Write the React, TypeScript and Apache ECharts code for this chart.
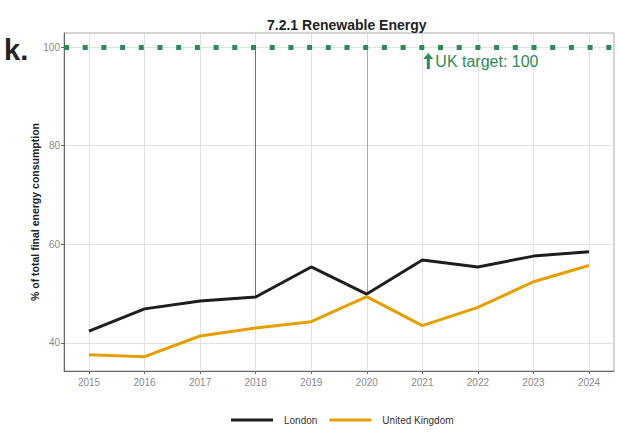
import React, { useEffect, useRef } from "react";
import * as echarts from "echarts";

const years = [2015, 2016, 2017, 2018, 2019, 2020, 2021, 2022, 2023, 2024];
const london = [42.4, 46.9, 48.5, 49.3, 55.4, 49.9, 56.8, 55.4, 57.6, 58.5];
const uk = [37.6, 37.2, 41.4, 43.0, 44.3, 49.4, 43.5, 47.2, 52.4, 55.7];
const yTicks = [40, 60, 80, 100];
const ukTarget = 100;
const targetYear = 2021;

const FONT = "Liberation Sans, Arial, Helvetica, sans-serif";

export default function App() {
  const ref = useRef<HTMLDivElement>(null);
  useEffect(() => {
    if (!ref.current) return;
    const chart = echarts.init(ref.current, null, { renderer: "svg" });
    const londonData = years.map((y, i) => [y, london[i]]);
    const ukData = years.map((y, i) => [y, uk[i]]);
    const iy2018 = years.indexOf(2018);
    const iy2020 = years.indexOf(2020);
    chart.setOption({
      animation: false,
      backgroundColor: "#ffffff",
      textStyle: { fontFamily: FONT },
      title: {
        text: "7.2.1 Renewable Energy",
        left: 262,
        top: 13,
        textStyle: { fontSize: 14, fontWeight: "bold", color: "#222", fontFamily: FONT },
      },
      graphic: [
        {
          type: "text",
          left: 4,
          top: 35,
          style: { text: "k.", fill: "#222", font: "bold 29px " + FONT },
        },
        {
          type: "text",
          x: 35,
          y: 212,
          rotation: Math.PI / 2,
          style: {
            text: "% of total final energy consumption",
            fill: "#222",
            font: "bold 10.5px " + FONT,
            align: "center",
            verticalAlign: "middle",
          },
        },
      ],
      grid: {
        left: 64,
        right: 5,
        top: 33,
        bottom: 72,
        show: true,
        borderColor: "#aaaaaa",
        borderWidth: 1,
        backgroundColor: "transparent",
      },
      legend: {
        data: [
          { name: "London", icon: "rect" },
          { name: "United Kingdom", icon: "rect" },
        ],
        left: 226,
        top: 410,
        itemWidth: 42,
        itemHeight: 3,
        itemGap: 12,
        textStyle: { fontSize: 10, color: "#333", padding: [0, 0, 0, 6], fontFamily: FONT },
      },
      xAxis: {
        type: "value",
        min: 2014.55,
        max: 2024.45,
        axisLine: { show: true, lineStyle: { color: "#666", width: 1 } },
        axisTick: { show: true, length: 3, customValues: years, lineStyle: { color: "#666" } },
        axisLabel: {
          customValues: years,
          color: "#8a8a8a",
          fontSize: 10,
          margin: 6,
          formatter: (v: number) => String(v),
        },
        splitLine: { show: true, lineStyle: { color: "#e2e2e2", width: 1 } },
      },
      yAxis: {
        type: "value",
        min: 34.3,
        max: 102.85,
        axisLine: { show: true, lineStyle: { color: "#666", width: 1 } },
        axisTick: { show: true, length: 3, customValues: yTicks, lineStyle: { color: "#666" } },
        axisLabel: { customValues: yTicks, color: "#8a8a8a", fontSize: 10, margin: 4 },
        splitLine: { show: true, lineStyle: { color: "#e2e2e2", width: 1 } },
      },
      series: [
        {
          name: "London",
          type: "line",
          data: londonData,
          symbol: "none",
          lineStyle: { color: "#1e1e1e", width: 3 },
          itemStyle: { color: "#1e1e1e" },
          z: 3,
          markLine: {
            silent: true,
            symbol: "none",
            label: { show: false },
            lineStyle: { color: "#2a8c52", width: 5, type: [5, 13.7], cap: "butt" },
            data: [{ yAxis: ukTarget }],
            z: 2,
          },
          markPoint: {
            silent: true,
            data: [
              {
                coord: [targetYear, ukTarget],
                symbol: "path://M5,0 L10,6 L6.5,6 L6.5,16 L3.5,16 L3.5,6 L0,6 Z",
                symbolSize: [10, 16],
                symbolOffset: [6, 14],
                itemStyle: { color: "#2e8b57" },
                label: {
                  show: true,
                  position: "right",
                  distance: 2,
                  formatter: "UK target: " + ukTarget,
                  color: "#2e8b57",
                  fontSize: 16,
                  fontFamily: FONT,
                },
              },
            ],
          },
        },
        {
          name: "United Kingdom",
          type: "line",
          data: ukData,
          symbol: "none",
          lineStyle: { color: "#E69F00", width: 3 },
          itemStyle: { color: "#E69F00" },
          z: 3,
          markLine: {
            silent: true,
            symbol: "none",
            label: { show: false },
            data: [
              [
                { coord: [years[iy2018], ukTarget], lineStyle: { color: "#777", width: 1, type: "solid" } },
                { coord: [years[iy2018], london[iy2018]] },
              ],
              [
                { coord: [years[iy2020], ukTarget], lineStyle: { color: "#aaa", width: 1, type: "solid" } },
                { coord: [years[iy2020], london[iy2020]] },
              ],
            ],
            z: 1,
          },
        },
      ],
    });
    return () => chart.dispose();
  }, []);
  return (
    <div
      ref={ref}
      style={{ position: "absolute", left: 0, top: 0, width: 619, height: 443 }}
    />
  );
}
